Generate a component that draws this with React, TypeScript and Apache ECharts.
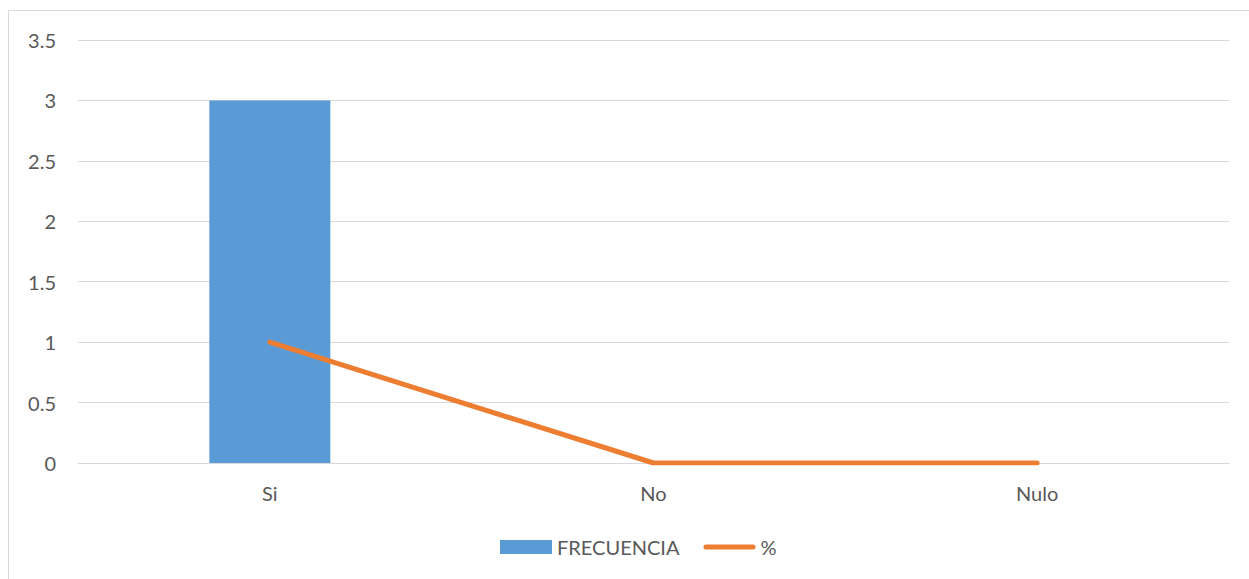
import React, { useEffect, useRef } from "react";
import * as echarts from "echarts";

const categories = ["Si", "No", "Nulo"];
const frecuencia = [3, 0, 0];
const porcentaje = [1, 0, 0];
const yTicks = [0, 0.5, 1, 1.5, 2, 2.5, 3, 3.5];

export default function App() {
  const ref = useRef<HTMLDivElement>(null);
  useEffect(() => {
    if (!ref.current) return;
    const chart = echarts.init(ref.current, null, { renderer: "svg" });
    const font = "Lato, 'Liberation Sans', sans-serif";
    chart.setOption({
      animation: false,
      backgroundColor: "#ffffff",
      textStyle: { fontFamily: font },
      graphic: [
        {
          type: "rect",
          shape: { x: 8.5, y: 10.5, width: 1260, height: 620 },
          style: { fill: "none", stroke: "#D9D9D9", lineWidth: 1 },
          silent: true,
          z: -1,
        },
      ],
      grid: { left: 78, right: 20, top: 40, bottom: 116, containLabel: false },
      legend: {
        top: 532,
        left: 495,
        itemGap: 24,
        itemWidth: 52,
        itemHeight: 14,
        textStyle: { fontSize: 20, color: "#595959", fontFamily: font },
        data: [
          { name: "FRECUENCIA", icon: "rect" },
          { name: "%", icon: "path://M2.5,0 H49.5 A2.5,2.5 0 0 1 49.5,5 H2.5 A2.5,2.5 0 0 1 2.5,0 Z", itemStyle: { color: "#ED7D31" } },
        ],
      },
      xAxis: {
        type: "category",
        data: categories,
        axisLine: { show: true, lineStyle: { color: "#D9D9D9", width: 1 } },
        axisTick: { show: false },
        axisLabel: { color: "#595959", fontSize: 20, margin: 20, fontFamily: font },
      },
      yAxis: {
        type: "value",
        min: yTicks[0],
        max: yTicks[yTicks.length - 1],
        interval: 0.5,
        axisLine: { show: false },
        axisTick: { show: false },
        axisLabel: { color: "#595959", fontSize: 20, margin: 22, fontFamily: font },
        splitLine: { lineStyle: { color: "#D9D9D9", width: 1 } },
      },
      series: [
        {
          name: "FRECUENCIA",
          type: "bar",
          data: frecuencia,
          barWidth: 121,
          itemStyle: { color: "#5B9BD5" },
        },
        {
          name: "%",
          type: "line",
          data: porcentaje,
          symbol: "none",
          showSymbol: false,
          lineStyle: { color: "#ED7D31", width: 5, cap: "round" },
          itemStyle: { color: "#ED7D31" },
        },
      ],
    });
    return () => chart.dispose();
  }, []);
  return (
    <div
      ref={ref}
      style={{ position: "absolute", left: 0, top: 0, width: 1249, height: 579 }}
    />
  );
}
